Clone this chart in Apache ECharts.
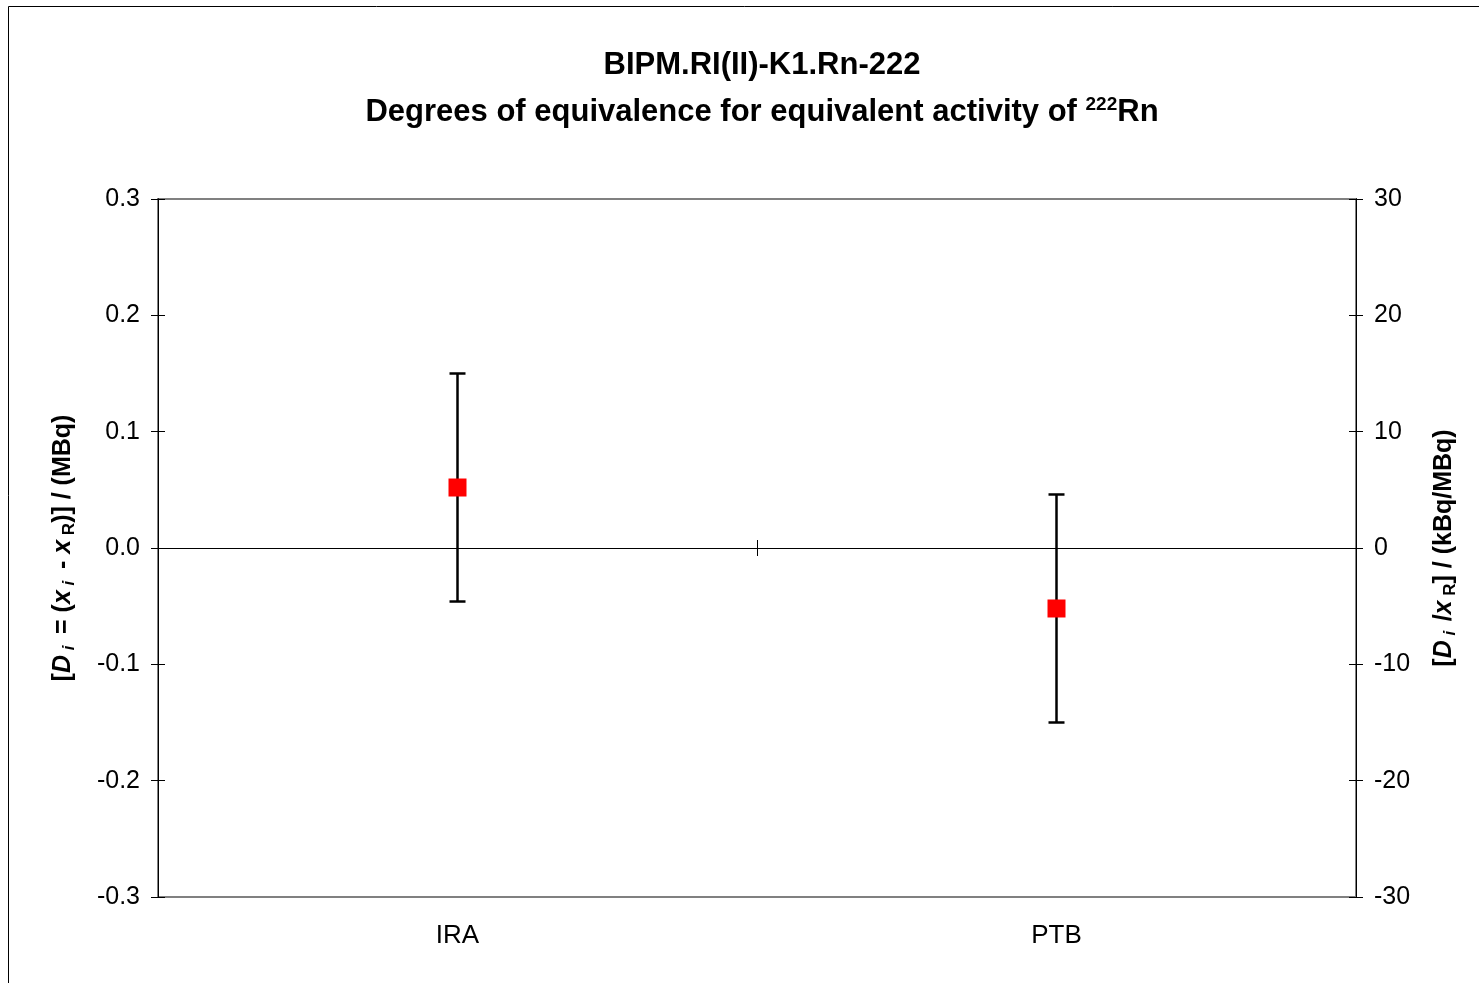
<!DOCTYPE html>
<html><head><meta charset="utf-8">
<script src="https://cdn.jsdelivr.net/npm/echarts@6/dist/echarts.min.js"></script>
<style>html,body{margin:0;padding:0;background:#fff}#c{width:1479px;height:983px}</style>
</head><body><div id="c"></div>
<script>
const categories = ['IRA', 'PTB'];
const degrees = [0.052, -0.052];          // D_i / MBq
const expandedU = [0.098, 0.098];         // U_i / MBq
const leftTicks = [-0.3, 0.3, 0.1];       // min, max, interval
const rightTicks = [-30, 30, 10];

const F = '"Liberation Sans", Arial, sans-serif';
const chart = echarts.init(document.getElementById('c'), null, {renderer: 'canvas'});

const errData = categories.map((c, i) => [i, degrees[i] - expandedU[i], degrees[i] + expandedU[i]]);
const ptData = categories.map((c, i) => [i, degrees[i]]);

const yBase = (min, max, interval, pos, inside, labels) => ({
  type: 'value', position: pos, min, max, interval,
  axisLine: {show: true, lineStyle: {color: '#000', width: 1}},
  axisTick: {show: true, inside, length: 7, lineStyle: {color: '#000', width: 1}},
  splitLine: {show: false},
  axisLabel: {show: labels, color: '#000', fontFamily: F, fontSize: 25, margin: 18,
    formatter: v => (interval < 1 ? v.toFixed(1) : String(v))}
});

const nameRich = {
  b: {fontFamily: F, fontSize: 25, fontWeight: 'bold', color: '#000'},
  bi: {fontFamily: F, fontSize: 25, fontWeight: 'bold', fontStyle: 'italic', color: '#000'},
  si: {fontFamily: F, fontSize: 17, fontWeight: 'bold', fontStyle: 'italic', color: '#000', padding: [13, 0, 0, 0]},
  s: {fontFamily: F, fontSize: 17, fontWeight: 'bold', color: '#000', padding: [13, 0, 0, 0]}
};

const yl = yBase(leftTicks[0], leftTicks[1], leftTicks[2], 'left', false, true);
yl.name = '{b|[}{bi|D}{si| i }{b| = (}{bi|x}{si| i }{b| - }{bi|x}{s| R}{b|)] / (MBq)}';
yl.nameLocation = 'middle'; yl.nameGap = 80; yl.nameTextStyle = {rich: nameRich};
const yl2 = yBase(leftTicks[0], leftTicks[1], leftTicks[2], 'left', true, false);
const yr = yBase(rightTicks[0], rightTicks[1], rightTicks[2], 'right', false, true);
yr.name = '{b|[}{bi|D}{si| i  }{b|/}{bi|x}{s| R}{b|] / (kBq/MBq)}';
yr.nameLocation = 'middle'; yr.nameGap = 73; yr.nameRotate = 90; yr.nameTextStyle = {rich: nameRich};
const yr2 = yBase(rightTicks[0], rightTicks[1], rightTicks[2], 'right', true, false);

const option = {
  backgroundColor: '#fff',
  animation: false,
  title: {
    left: 757, top: 37, textAlign: 'center',
    text: '{t|BIPM.RI(II)-K1.Rn-222}\n{t|Degrees of equivalence for equivalent activity of }{sup|222}{t|Rn}',
    textStyle: {
      rich: {
        t: {fontFamily: F, fontSize: 31, fontWeight: 'bold', color: '#000', lineHeight: 47},
        sup: {fontFamily: F, fontSize: 19, fontWeight: 'bold', color: '#000', padding: [0, 0, 16, 0], lineHeight: 47}
      }
    }
  },
  graphic: [{type: 'rect', shape: {x: 8.5, y: 6.5, width: 1500, height: 1000},
    style: {fill: 'none', stroke: '#000', lineWidth: 1}, z: -1, silent: true}],
  grid: {left: 158, right: 123, top: 199, bottom: 86, show: true, borderColor: '#808080', borderWidth: 2, backgroundColor: '#fff'},
  xAxis: [
    {type: 'category', data: categories, position: 'bottom', axisLine: {show: false}, axisTick: {show: false},
      axisLabel: {color: '#000', fontFamily: F, fontSize: 26, margin: 26}},
    {type: 'category', data: categories, position: 'bottom',
      axisLine: {show: true, onZero: true, onZeroAxisIndex: 0, lineStyle: {color: '#000', width: 1}},
      axisTick: {show: true, inside: false, length: 8, alignWithLabel: false, lineStyle: {color: '#000'}}, axisLabel: {show: false}},
    {type: 'category', data: categories, position: 'bottom',
      axisLine: {show: true, onZero: true, onZeroAxisIndex: 0, lineStyle: {color: '#000', width: 1}},
      axisTick: {show: true, inside: true, length: 8, alignWithLabel: false, lineStyle: {color: '#000'}}, axisLabel: {show: false}}
  ],
  yAxis: [yl, yl2, yr, yr2],
  series: [
    {
      type: 'custom', xAxisIndex: 0, yAxisIndex: 0, data: errData, z: 3,
      renderItem: (params, api) => {
        const x = api.value(0);
        const lo = api.coord([x, api.value(1)]);
        const hi = api.coord([x, api.value(2)]);
        const w = 8;
        const st = {stroke: '#000', lineWidth: 2.5};
        return {type: 'group', children: [
          {type: 'line', shape: {x1: lo[0], y1: lo[1], x2: hi[0], y2: hi[1]}, style: st},
          {type: 'line', shape: {x1: lo[0] - w, y1: lo[1], x2: lo[0] + w, y2: lo[1]}, style: st},
          {type: 'line', shape: {x1: hi[0] - w, y1: hi[1], x2: hi[0] + w, y2: hi[1]}, style: st}
        ]};
      }
    },
    {type: 'scatter', xAxisIndex: 0, yAxisIndex: 0, data: ptData, symbol: 'rect', symbolSize: 18,
      itemStyle: {color: '#ff0000', opacity: 1}, z: 4}
  ]
};
chart.setOption(option);
</script></body></html>
